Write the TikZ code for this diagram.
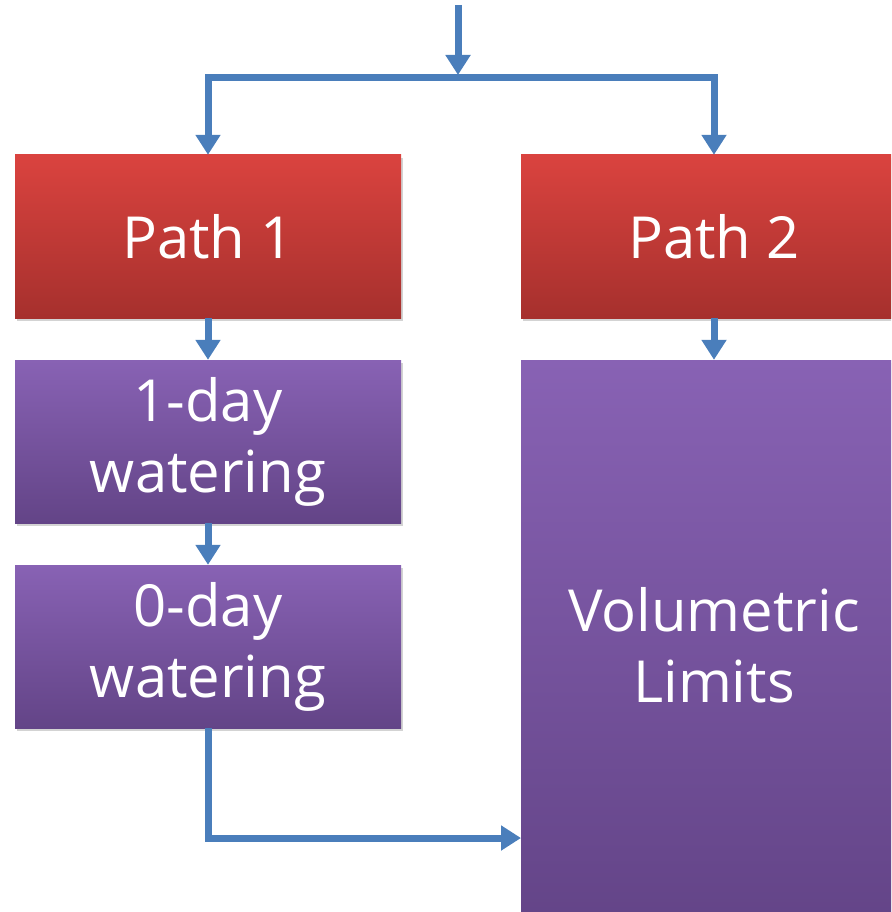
\documentclass[tikz,border=0pt]{standalone}
\usepackage{fontspec}
\setmainfont{Open Sans}
\usetikzlibrary{arrows.meta,shadows}
\definecolor{flowblue}{HTML}{4A7EBB}
\definecolor{redtop}{HTML}{DA433F}
\definecolor{redbot}{HTML}{A6302D}
\definecolor{purtop}{HTML}{8862B4}
\definecolor{purbot}{HTML}{634487}
\begin{document}
\begin{tikzpicture}
[x=1pt,y=-1pt,%
  flow/.style={-{Triangle[width=24pt,length=20pt]},line width=7pt,flowblue},%
  box/.style={rectangle,minimum width=386pt,inner sep=0pt,text=white,align=center,%
    font=\fontsize{58}{71}\selectfont,%
    drop shadow={shadow xshift=2pt,shadow yshift=-3pt,opacity=.35}},%
  pathbox/.style={box,minimum height=163pt,top color=redtop,bottom color=redbot},%
  daybox/.style={box,minimum height=163pt,top color=purtop,bottom color=purbot},%
  volbox/.style={box,minimum height=570pt,top color=purtop,bottom color=purbot}]
\useasboundingbox (0,0) rectangle (891,912);
\clip (0,0) rectangle (891,912);
% boxes
\node[pathbox] (p1) at (208,236.5) {Path 1};
\node[pathbox] (p2) at (714,236.5) {Path 2};
\node[daybox] (d1) at (208,441.5) {1-day\\watering};
\node[daybox] (d0) at (208,646.5) {0-day\\watering};
\node[volbox] (vol) at (714,645) {Volumetric\\Limits};
% connectors
\coordinate (start) at (458,5);
\coordinate (split) at (458,78);
\coordinate (join) at (521,838);
\draw[flow] (start) -- ([yshift=3pt]split);
\draw[flow,{Triangle[width=24pt,length=20pt]}-{Triangle[width=24pt,length=20pt]}]
  (p1.north) |- (split) -| (p2.north);
\draw[flow] (p1.south) -- (d1.north);
\draw[flow] (p2.south) -- (vol.north);
\draw[flow] (d1.south) -- (d0.north);
\draw[flow] (d0.south) |- (join);
\end{tikzpicture}
\end{document}
